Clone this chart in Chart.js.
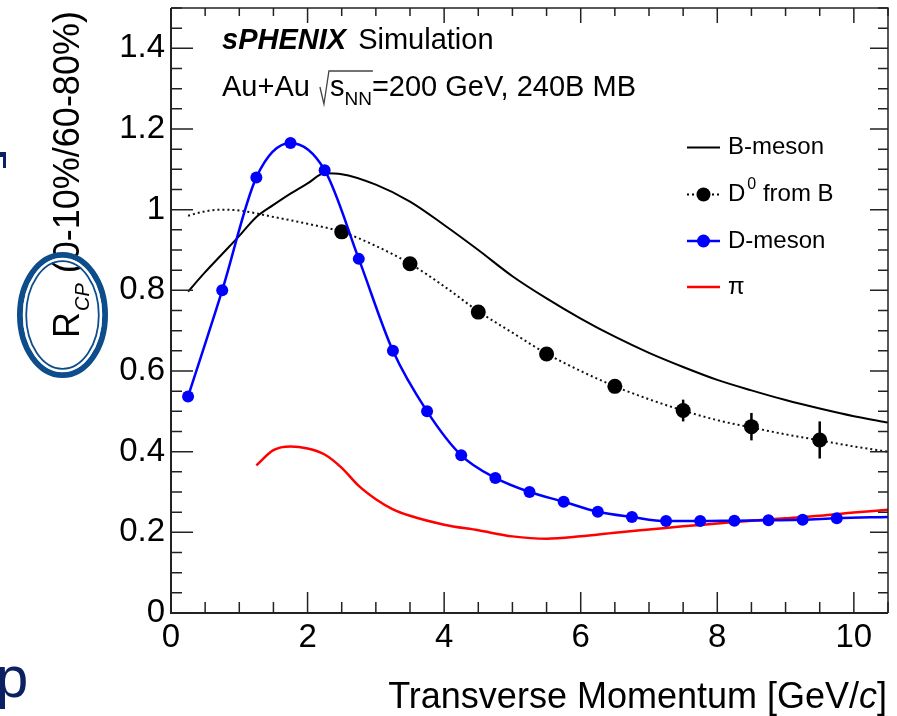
<!DOCTYPE html>
<html>
<head>
<meta charset="utf-8">
<script src="https://cdn.jsdelivr.net/npm/chart.js@4.4.3/dist/chart.umd.min.js"></script>
<style>
  html, body { margin: 0; padding: 0; background: #fff; }
  #wrap { width: 897px; height: 716px; }
</style>
</head>
<body>
<div id="wrap"><canvas id="c" width="897" height="716"></canvas></div>
<script>
// tick labels
const xTicks = [0, 2, 4, 6, 8, 10];
const yTicks = [0, 0.2, 0.4, 0.6, 0.8, 1, 1.2, 1.4];

// B-meson (solid black curve)
const bMesonPt  = [0.25, 0.5, 0.75, 1.0, 1.25, 1.5, 1.75, 2.0, 2.25, 2.5, 3.0, 3.5, 4.0, 4.5, 5.0, 5.5, 6.0, 6.5, 7.0, 7.5, 8.0, 8.5, 9.0, 9.5, 10.0, 10.5];
const bMesonVal = [0.797, 0.845, 0.89, 0.935, 0.982, 1.012, 1.04, 1.065, 1.09, 1.088, 1.062, 1.02, 0.962, 0.9, 0.835, 0.78, 0.73, 0.685, 0.645, 0.61, 0.578, 0.552, 0.528, 0.507, 0.488, 0.472];

// D0 from B (dotted curve + points with error bars)
const d0CurvePt  = [0.25, 0.5, 0.75, 1.0, 1.5, 2.0, 2.5, 3.0, 3.5, 4.0, 4.5, 5.0, 5.5, 6.0, 6.5, 7.0, 7.5, 8.0, 8.5, 9.0, 9.5, 10.0, 10.5];
const d0CurveVal = [0.985, 0.996, 1.0, 0.998, 0.982, 0.965, 0.945, 0.91, 0.866, 0.81, 0.748, 0.695, 0.643, 0.6, 0.562, 0.53, 0.502, 0.478, 0.46, 0.443, 0.428, 0.413, 0.40];
const d0Pt  = [2.5, 3.5, 4.5, 5.5, 6.5, 7.5, 8.5, 9.5];
const d0Val = [0.945, 0.866, 0.746, 0.642, 0.562, 0.502, 0.462, 0.429];
const d0Err = [0.01, 0.01, 0.01, 0.012, 0.015, 0.027, 0.034, 0.046];

// D-meson (blue points with smooth line; last entry is the curve end only)
const dMesonPt  = [0.25, 0.75, 1.25, 1.75, 2.25, 2.75, 3.25, 3.75, 4.25, 4.75, 5.25, 5.75, 6.25, 6.75, 7.25, 7.75, 8.25, 8.75, 9.25, 9.75, 10.5];
const dMesonVal = [0.537, 0.80, 1.08, 1.165, 1.098, 0.878, 0.65, 0.50, 0.391, 0.335, 0.30, 0.276, 0.251, 0.238, 0.228, 0.228, 0.229, 0.230, 0.231, 0.235, 0.238];

// pi (red curve)
const piPt  = [1.25, 1.5, 1.75, 2.0, 2.25, 2.5, 2.75, 3.0, 3.25, 3.5, 4.0, 4.5, 5.0, 5.5, 6.0, 6.5, 7.0, 7.5, 8.0, 8.5, 9.0, 9.5, 10.0, 10.5];
const piVal = [0.366, 0.404, 0.413, 0.408, 0.393, 0.36, 0.315, 0.282, 0.257, 0.241, 0.219, 0.205, 0.19, 0.184, 0.19, 0.199, 0.207, 0.215, 0.222, 0.229, 0.235, 0.241, 0.249, 0.256];

const FONT = '"Liberation Sans", Arial, Helvetica, sans-serif';
const BLUE = '#0000ff';
const RED = '#ff0000';
const NAVY = '#0e4d8c';

const pts = (xs, ys) => xs.map((x, i) => ({ x, y: ys[i] }));

// frame, inward ticks, error bars, legend and labels
const decor = {
  id: 'decor',
  afterDatasetsDraw(chart) {
    const { ctx, chartArea: a } = chart;
    const xs = chart.scales.x, ys = chart.scales.y;
    ctx.save();

    // error bars on D0 points
    ctx.strokeStyle = '#000';
    ctx.lineWidth = 2.5;
    d0Pt.forEach((x, i) => {
      const px = xs.getPixelForValue(x);
      ctx.beginPath();
      ctx.moveTo(px, ys.getPixelForValue(d0Val[i] - d0Err[i]));
      ctx.lineTo(px, ys.getPixelForValue(d0Val[i] + d0Err[i]));
      ctx.stroke();
    });

    // frame
    ctx.strokeStyle = '#222';
    ctx.lineWidth = 2;
    ctx.beginPath();
    ctx.moveTo(a.left, a.top); ctx.lineTo(a.left, a.bottom); ctx.lineTo(a.right, a.bottom);
    ctx.stroke();
    ctx.lineWidth = 1.5;
    ctx.beginPath();
    ctx.moveTo(a.left, a.top); ctx.lineTo(a.right, a.top); ctx.lineTo(a.right, a.bottom);
    ctx.stroke();

    // ticks
    ctx.lineWidth = 1.5;
    ctx.beginPath();
    for (let k = 0; k <= 21; k++) {
      const v = k * 0.5, px = xs.getPixelForValue(v), major = k % 4 === 0;
      ctx.moveTo(px, a.bottom); ctx.lineTo(px, a.bottom - (major ? 21 : 11));
      ctx.moveTo(px, a.top); ctx.lineTo(px, a.top + (major ? 15 : 8));
    }
    for (let k = 0; k <= 30; k++) {
      const v = k * 0.05, py = ys.getPixelForValue(v), major = k % 4 === 0;
      ctx.moveTo(a.left, py); ctx.lineTo(a.left + (major ? 22 : 11), py);
      ctx.moveTo(a.right, py); ctx.lineTo(a.right - (major ? 18 : 10), py);
    }
    ctx.stroke();

    // header
    ctx.fillStyle = '#000';
    ctx.textBaseline = 'alphabetic';
    ctx.textAlign = 'left';
    let x = 222;
    ctx.font = 'italic bold 29px ' + FONT;
    ctx.fillText('sPHENIX', x, 49);
    x += ctx.measureText('sPHENIX ').width + 4;
    ctx.font = '29px ' + FONT;
    ctx.fillText('Simulation', x, 49);

    x = 222;
    ctx.fillText('Au+Au ', x, 96);
    x += ctx.measureText('Au+Au ').width + 3;
    const sW = ctx.measureText('s').width;
    ctx.font = '19px ' + FONT;
    const nnW = ctx.measureText('NN').width;
    ctx.strokeStyle = '#444';
    ctx.lineWidth = 1.3;
    ctx.beginPath();
    ctx.moveTo(x - 1, 87); ctx.lineTo(x + 3, 104); ctx.lineTo(x + 8, 71); ctx.lineTo(x + 9 + sW + nnW + 1, 71);
    ctx.stroke();
    x += 9;
    ctx.font = '29px ' + FONT;
    ctx.fillText('s', x, 96);
    x += sW;
    ctx.font = '19px ' + FONT;
    ctx.fillText('NN', x, 105);
    x += nnW;
    ctx.font = '29px ' + FONT;
    ctx.fillText('=200 GeV, 240B MB', x, 96);

    // legend
    const lx0 = 687, lx1 = 720, tx = 728;
    const rows = [147.5, 194.5, 241, 287];
    ctx.font = '24px ' + FONT;
    ctx.textBaseline = 'middle';
    // B-meson
    ctx.strokeStyle = '#000'; ctx.lineWidth = 2;
    ctx.beginPath(); ctx.moveTo(lx0, rows[0]); ctx.lineTo(lx1, rows[0]); ctx.stroke();
    ctx.fillText('B-meson', tx, rows[0]);
    // D0 from B
    ctx.setLineDash([2, 3]);
    ctx.beginPath(); ctx.moveTo(lx0, rows[1]); ctx.lineTo(lx1, rows[1]); ctx.stroke();
    ctx.setLineDash([]);
    ctx.beginPath(); ctx.arc((lx0 + lx1) / 2, rows[1], 7, 0, Math.PI * 2); ctx.fill();
    ctx.fillText('D', tx, rows[1]);
    let dx = tx + ctx.measureText('D').width + 2;
    ctx.font = '16px ' + FONT;
    ctx.fillText('0', dx, rows[1] - 10);
    dx += ctx.measureText('0').width;
    ctx.font = '24px ' + FONT;
    ctx.fillText(' from B', dx, rows[1]);
    // D-meson
    ctx.strokeStyle = BLUE; ctx.fillStyle = BLUE; ctx.lineWidth = 2.5;
    ctx.beginPath(); ctx.moveTo(lx0, rows[2]); ctx.lineTo(lx1, rows[2]); ctx.stroke();
    ctx.beginPath(); ctx.arc((lx0 + lx1) / 2, rows[2], 6.5, 0, Math.PI * 2); ctx.fill();
    ctx.fillStyle = '#000';
    ctx.fillText('D-meson', tx, rows[2]);
    // pi
    ctx.strokeStyle = RED;
    ctx.beginPath(); ctx.moveTo(lx0, rows[3]); ctx.lineTo(lx1, rows[3]); ctx.stroke();
    ctx.fillText('π', tx, rows[3]);

    // x axis title
    ctx.textBaseline = 'alphabetic';
    ctx.textAlign = 'right';
    ctx.font = '36px ' + FONT;
    const tail = ']';
    const tailW = ctx.measureText(tail).width;
    ctx.fillText(tail, 887, 708);
    ctx.font = 'italic 36px ' + FONT;
    const cW = ctx.measureText('c').width;
    ctx.fillText('c', 887 - tailW, 708);
    ctx.font = '36px ' + FONT;
    ctx.fillText('Transverse Momentum [GeV/', 887 - tailW - cW, 708);

    // y axis title (rotated)
    ctx.save();
    ctx.translate(79, 338);
    ctx.rotate(-Math.PI / 2);
    ctx.textAlign = 'left';
    ctx.font = '36px ' + FONT;
    ctx.fillText('R', 0, 0);
    let yx = ctx.measureText('R').width + 1;
    ctx.font = 'italic 20px ' + FONT;
    ctx.fillText('CP', yx, 10);
    yx += ctx.measureText('CP').width;
    ctx.font = '36px ' + FONT;
    ctx.fillText(' (0-10%/60-80%)', yx, 0);
    ctx.restore();

    // slide annotations: double ellipse around R_CP, cropped slide text
    ctx.strokeStyle = NAVY;
    ctx.lineWidth = 6;
    ctx.beginPath(); ctx.ellipse(62.5, 315, 42.5, 60, 0, 0, Math.PI * 2); ctx.stroke();
    ctx.strokeStyle = '#fff'; ctx.lineWidth = 2.5;
    ctx.beginPath(); ctx.ellipse(62.5, 315, 38.5, 56, 0, 0, Math.PI * 2); ctx.stroke();
    ctx.strokeStyle = NAVY; ctx.lineWidth = 1.8;
    ctx.beginPath(); ctx.ellipse(62.5, 315, 36.3, 53.8, 0, 0, Math.PI * 2); ctx.stroke();

    ctx.fillStyle = '#0b2161';
    ctx.fillRect(0, 152, 6, 5);
    ctx.fillRect(3, 152, 3, 16);
    ctx.font = '58px ' + FONT;
    ctx.textAlign = 'left';
    ctx.fillText('p', -4, 697);

    ctx.restore();
  }
};

const fmt = v => String(Math.round(v * 10) / 10);

new Chart(document.getElementById('c'), {
  type: 'line',
  data: {
    datasets: [
      {
        label: 'D-meson',
        data: pts(dMesonPt, dMesonVal),
        borderColor: BLUE, backgroundColor: BLUE, borderWidth: 2.5,
        pointRadius: ctx => ctx.dataIndex < dMesonPt.length - 1 ? 6 : 0,
        pointBorderWidth: 0,
        cubicInterpolationMode: 'monotone'
      },
      {
        label: 'D0 from B points',
        data: pts(d0Pt, d0Val),
        showLine: false,
        borderColor: '#000', backgroundColor: '#000',
        pointRadius: 7.5, pointBorderWidth: 0
      },
      {
        label: 'π',
        data: pts(piPt, piVal),
        borderColor: RED, borderWidth: 2.5, pointRadius: 0,
        cubicInterpolationMode: 'monotone'
      },
      {
        label: 'D0 from B',
        data: pts(d0CurvePt, d0CurveVal),
        borderColor: '#111', borderWidth: 2, borderDash: [2, 3], pointRadius: 0,
        cubicInterpolationMode: 'monotone'
      },
      {
        label: 'B-meson',
        data: pts(bMesonPt, bMesonVal),
        borderColor: '#000', borderWidth: 2, pointRadius: 0,
        cubicInterpolationMode: 'monotone'
      }
    ]
  },
  options: {
    responsive: false,
    devicePixelRatio: 1,
    animation: false,
    events: [],
    layout: { padding: { left: 0, top: 8, right: 9, bottom: 0 } },
    plugins: { legend: { display: false }, tooltip: { enabled: false } },
    scales: {
      x: {
        type: 'linear', min: 0, max: 10.5,
        grid: { display: false, drawTicks: false },
        border: { display: false },
        afterFit: s => { s.height = 103; s.paddingLeft = 0; s.paddingRight = 0; },
        afterBuildTicks: s => { s.ticks = xTicks.map(v => ({ value: v })); },
        ticks: { color: '#000', font: { family: FONT, size: 33 }, padding: 5, maxRotation: 0, callback: fmt }
      },
      y: {
        type: 'linear', min: 0, max: 1.5,
        grid: { display: false, drawTicks: false },
        border: { display: false },
        afterFit: s => { s.width = 171; s.paddingTop = 0; s.paddingBottom = 0; },
        afterBuildTicks: s => { s.ticks = yTicks.map(v => ({ value: v })); },
        ticks: { color: '#000', font: { family: FONT, size: 33 }, padding: 6, callback: fmt }
      }
    }
  },
  plugins: [decor]
});
</script>
</body>
</html>
